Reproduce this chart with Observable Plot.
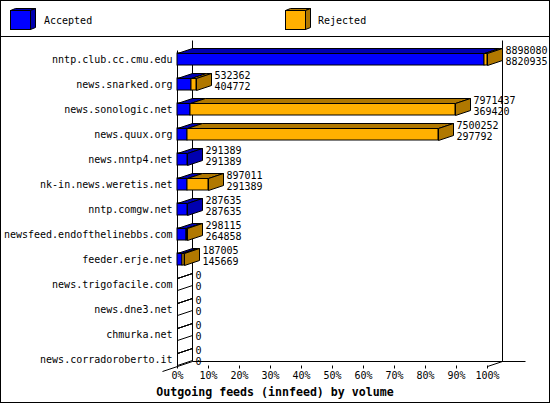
<!DOCTYPE html>
<html><head><meta charset="utf-8">
<script src="https://cdn.jsdelivr.net/npm/d3@7"></script>
<script src="https://cdn.jsdelivr.net/npm/@observablehq/plot@0.6"></script>
<style>html,body{margin:0;padding:0;background:#fff}svg{display:block}</style>
</head><body><div id="chart"></div>
<script>
const hosts = ["nntp.club.cc.cmu.edu","news.snarked.org","news.sonologic.net","news.quux.org","news.nntp4.net","nk-in.news.weretis.net","nntp.comgw.net","newsfeed.endofthelinebbs.com","feeder.erje.net","news.trigofacile.com","news.dne3.net","chmurka.net","news.corradoroberto.it"];
const offered = [8898080,532362,7971437,7500252,291389,897011,287635,298115,187005,0,0,0,0];
const accepted = [8820935,404772,369420,297792,291389,291389,287635,264858,145669,0,0,0,0];
const seriesNames = ["Accepted","Rejected"];
const seriesColors = ["#0000ff","#ffb000"];
const seriesDark = ["#0000b0","#b07800"];
const tickValues = [0,0.1,0.2,0.3,0.4,0.5,0.6,0.7,0.8,0.9,1];
const tickLabels = ["0%","10%","20%","30%","40%","50%","60%","70%","80%","90%","100%"];
const title = "Outgoing feeds (innfeed) by volume";

const W = 550, H = 405;
const DX = 15, DY = -5;
const mono = "'DejaVu Sans Mono', monospace";
const maxOffered = d3.max(offered);
const rows = hosts.map((h, i) => ({
  host: h, offered: offered[i], accepted: accepted[i],
  rejected: offered[i] - accepted[i],
  a: accepted[i] / maxOffered, t: offered[i] / maxOffered
}));
const p = v => Math.round(v) + 0.5;

function frame(index, scales, values, dim) {
  const x = scales.x;
  const g = d3.create("svg:g").attr("fill", "none").attr("stroke", "#000");
  const x0 = p(x(0)), x1 = p(x(1));
  const fb = p(dim.height - dim.marginBottom), bb = fb + DY;
  g.append("rect").attr("x", 0.5).attr("y", 0.5).attr("width", W - 1).attr("height", 402);
  g.append("line").attr("x1", 0).attr("x2", W).attr("y1", 36.5).attr("y2", 36.5);
  g.append("line").attr("x1", x0 + DX).attr("x2", x0 + DX).attr("y1", 40.5).attr("y2", bb);
  g.append("line").attr("x1", x1 + DX).attr("x2", x1 + DX).attr("y1", 40.5).attr("y2", bb);
  g.append("line").attr("x1", x0 + DX).attr("x2", x1 + DX + 23).attr("y1", bb).attr("y2", bb);
  g.append("line").attr("x1", x0 - DX).attr("y1", fb - DY).attr("x2", x0 + DX).attr("y2", bb);
  g.append("line").attr("x1", x1).attr("y1", fb).attr("x2", x1 + DX).attr("y2", bb);
  g.append("line").attr("x1", x0).attr("x2", x0).attr("y1", 50.5).attr("y2", fb);
  // legend
  const lx = [10, 285], tx = [44, 318];
  seriesNames.forEach((name, i) => {
    const L = lx[i] + 0.5, T = 10.5, R = L + 20, B = 29.5, d = 5, e = -2;
    g.append("rect").attr("x", L).attr("y", T).attr("width", 20).attr("height", 19).attr("fill", seriesColors[i]);
    g.append("polygon").attr("points", [[L, T], [L + d, T + e], [R + d, T + e], [R, T]].join(" ")).attr("fill", seriesDark[i]);
    g.append("polygon").attr("points", [[R, T], [R + d, T + e], [R + d, B + e], [R, B]].join(" ")).attr("fill", seriesDark[i]);
    g.append("text").attr("x", tx[i]).attr("y", 20.5).attr("dy", "0.32em").attr("text-anchor", "start")
      .attr("stroke", "none").attr("fill", "#000")
      .attr("font-family", mono).attr("font-size", 10).text(name);
  });
  g.append("text").attr("x", W / 2).attr("y", 392).attr("dy", "0.35em").attr("text-anchor", "middle")
    .attr("stroke", "none").attr("fill", "#000").attr("font-family", mono).attr("font-weight", "bold")
    .attr("font-size", 11.6).text(title);
  return g.node();
}

function faces(index, scales, values, dim) {
  const x = scales.x, y = scales.y;
  const bw = y.bandwidth ? y.bandwidth() : 12;
  const g = d3.create("svg:g").attr("stroke", "#000");
  for (const r of rows) {
    const yt = p(y(r.host)), yb = yt + Math.round(bw);
    const x0 = p(x(0)), xa = p(x(r.a)), xt = p(x(r.t));
    const top = (l, rr) => [[l, yt], [l + DX, yt + DY], [rr + DX, yt + DY], [rr, yt]].join(" ");
    if (r.offered === 0) {
      g.append("polygon").attr("points", top(x0, x0)).attr("fill", "none");
      g.append("polygon").attr("points", [[x0, yt], [x0 + DX, yt + DY], [x0 + DX, yb + DY], [x0, yb]].join(" ")).attr("fill", "none");
      continue;
    }
    if (r.accepted > 0) g.append("polygon").attr("points", top(x0, xa)).attr("fill", seriesDark[0]);
    if (r.rejected > 0) g.append("polygon").attr("points", top(xa, xt)).attr("fill", seriesDark[1]);
    g.append("polygon").attr("points", [[xt, yt], [xt + DX, yt + DY], [xt + DX, yb + DY], [xt, yb]].join(" "))
      .attr("fill", r.rejected > 0 ? seriesDark[1] : seriesDark[0]);
  }
  return g.node();
}

const chart = Plot.plot({
  width: W, height: H,
  marginLeft: 177, marginRight: 63, marginTop: 40, marginBottom: 39.5,
  style: {fontFamily: mono, fontSize: "10px", background: "#fff", color: "#000", overflow: "visible"},
  x: {domain: [0, 1], round: true, axis: null},
  y: {domain: hosts, range: [46.8, 371.8], paddingInner: 0.52, paddingOuter: 0.26, round: true, axis: null},
  marks: [
    frame,
    Plot.axisX({ticks: tickValues, tickFormat: (d, i) => tickLabels[tickValues.indexOf(d)], tickSize: 3, tickPadding: 3, fontSize: 10, label: null}),
    Plot.barX(rows.filter(r => r.accepted > 0), {x1: 0, x2: "a", y: "host", fill: seriesColors[0], stroke: "#000", insetTop: 0, insetBottom: 0}),
    Plot.barX(rows.filter(r => r.rejected > 0), {x1: "a", x2: "t", y: "host", fill: seriesColors[1], stroke: "#000", insetTop: 0, insetBottom: 0}),
    faces,
    Plot.text(rows, {x: 0, y: "host", text: "host", textAnchor: "end", dx: -5, fill: "#000"}),
    Plot.text(rows, {x: "t", y: "host", text: d => String(d.offered), textAnchor: "start", dx: 18, dy: -9, fill: "#000"}),
    Plot.text(rows, {x: "t", y: "host", text: d => String(d.accepted), textAnchor: "start", dx: 18, dy: 2, fill: "#000"})
  ]
});
document.getElementById("chart").appendChild(chart);
</script></body></html>
